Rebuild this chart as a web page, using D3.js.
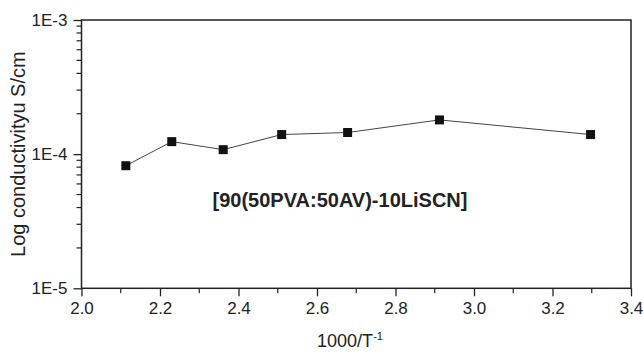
<!DOCTYPE html>
<meta charset="utf-8">
<style>
body { margin: 0; background: #fff; }
text { font-family: Arial, "Liberation Sans", sans-serif; fill: #222; }
.frame { fill: none; stroke: #222; stroke-width: 1.5px; }
.series { fill: none; stroke: #444; stroke-width: 1px; }
.marker { fill: #111; }
</style>
<svg width="643" height="353"></svg>
<script src="https://cdn.jsdelivr.net/npm/d3@7"></script>
<script>
// 1000/T values and conductivity (S/cm)
let invT = [2.113, 2.230, 2.361, 2.510, 2.678, 2.912, 3.297];
let sigma = [8.2e-5, 1.24e-4, 1.08e-4, 1.40e-4, 1.45e-4, 1.80e-4, 1.40e-4];
let xTicks = [2.0, 2.2, 2.4, 2.6, 2.8, 3.0, 3.2, 3.4];
let yTicks = [1e-5, 1e-4, 1e-3];
let yTickLabels = ['1E-5', '1E-4', '1E-3'];
let sampleLabel = '[90(50PVA:50AV)-10LiSCN]';

let svg = d3.select('svg');
let pLeft = 81.5, pRight = 631, pTop = 20, pBottom = 288.3;

let x = d3.scaleLinear().domain([2.0, 3.4]).range([pLeft, pRight]);
let y = d3.scaleLog().domain([1e-5, 1e-3]).range([pBottom, pTop]);

// frame
svg.append('rect').attr('class', 'frame')
    .attr('x', pLeft).attr('y', pTop)
    .attr('width', pRight - pLeft).attr('height', pBottom - pTop);

// x axis ticks, major + minor
let xMinor = d3.range(2.1, 3.4, 0.2);
let gx = svg.append('g').attr('transform', `translate(0,${pBottom})`);
gx.call(d3.axisBottom(x).tickValues(xTicks).tickFormat(d3.format('.1f'))
        .tickSize(8).tickPadding(6))
    .call(g => g.select('.domain').remove())
    .call(g => g.selectAll('line').attr('stroke', '#222').attr('stroke-width', 1.3))
    .call(g => g.selectAll('text').attr('font-size', 17).attr('fill', '#333')
        .attr('font-family', 'Arial, Liberation Sans, sans-serif'));
gx.selectAll('.minor').data(xMinor).enter().append('line')
    .attr('x1', d => x(d)).attr('x2', d => x(d))
    .attr('y1', 0).attr('y2', 5)
    .attr('stroke', '#222').attr('stroke-width', 1.2);

// y axis ticks, log with minor
let yMinor = [];
[1e-5, 1e-4].forEach(dec => { for (let k = 2; k <= 9; k++) yMinor.push(dec * k); });
let gy = svg.append('g').attr('transform', `translate(${pLeft},0)`);
gy.call(d3.axisLeft(y).tickValues(yTicks)
        .tickFormat((d, i) => yTickLabels[i]).tickSize(8).tickPadding(6))
    .call(g => g.select('.domain').remove())
    .call(g => g.selectAll('line').attr('stroke', '#222').attr('stroke-width', 1.3))
    .call(g => g.selectAll('text').attr('font-size', 17).attr('fill', '#333')
        .attr('font-family', 'Arial, Liberation Sans, sans-serif'));
gy.selectAll('.minor').data(yMinor).enter().append('line')
    .attr('x1', 0).attr('x2', -5)
    .attr('y1', d => y(d)).attr('y2', d => y(d))
    .attr('stroke', '#222').attr('stroke-width', 1.2);

// data line and markers
let pts = invT.map((v, i) => [v, sigma[i]]);
svg.append('path').attr('class', 'series')
    .attr('d', d3.line().x(d => x(d[0])).y(d => y(d[1]))(pts));
svg.append('g').selectAll('rect').data(pts).enter().append('rect')
    .attr('class', 'marker')
    .attr('x', d => x(d[0]) - 4.5).attr('y', d => y(d[1]) - 4.5)
    .attr('width', 9).attr('height', 9);

// sample label
svg.append('text')
    .attr('x', 340).attr('y', 207)
    .attr('text-anchor', 'middle')
    .attr('font-size', 20).attr('font-weight', 'bold')
    .text(sampleLabel);

// axis titles
let xt = svg.append('text')
    .attr('x', 350).attr('y', 347)
    .attr('text-anchor', 'middle')
    .attr('font-size', 18).attr('fill', '#333');
xt.append('tspan').text('1000/T');
xt.append('tspan').attr('dy', -7).attr('font-size', 11).text('-1');

svg.append('text')
    .attr('transform', `translate(25,${(pTop + pBottom) / 2}) rotate(-90)`)
    .attr('text-anchor', 'middle')
    .attr('font-size', 20).attr('fill', '#333')
    .text('Log conductivityu S/cm');
</script>
